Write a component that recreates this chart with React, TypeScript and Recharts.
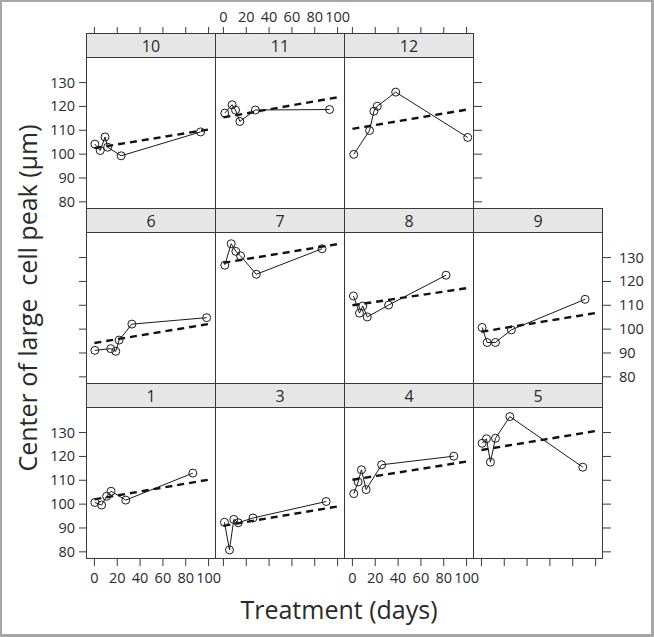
import { Line, LineChart, XAxis, YAxis } from 'recharts';

// panel order: top row, middle row, bottom row (lattice layout, 4 columns)
const panelNames = ['10', '11', '12', '6', '7', '8', '9', '1', '3', '4', '5'];
const panelRows = [0, 0, 0, 1, 1, 1, 1, 2, 2, 2, 2];
const panelCols = [0, 1, 2, 0, 1, 2, 3, 0, 1, 2, 3];

// treatment day and centre of large cell peak (µm) for each subject
const days10 = [0.4, 5.1, 9.3, 11.6, 23.4, 93];
const peak10 = [104.2, 101.5, 107.2, 102.9, 99.3, 109.3];
const days11 = [1.2, 7.6, 10.6, 14.4, 28, 93];
const peak11 = [117.2, 120.7, 118.5, 113.7, 118.5, 118.7];
const days12 = [1.2, 15, 18.8, 21.8, 37.9, 101];
const peak12 = [99.9, 109.9, 118, 120.1, 126, 107];
const days6 = [0.4, 14.3, 18.7, 21.6, 32.8, 98.3];
const peak6 = [91.1, 91.8, 90.7, 95.4, 102.1, 104.8];
const days7 = [1.2, 6.8, 10.9, 15, 28.8, 86.4];
const peak7 = [126.8, 135.8, 132.6, 130.7, 123, 133.7];
const days8 = [0.9, 6.2, 9.1, 13, 31.7, 82];
const peak8 = [113.9, 106.7, 109.7, 105.1, 110.1, 122.6];
const days9 = [0.6, 5, 12.3, 26.2, 90.8];
const peak9 = [100.7, 94.4, 94.4, 99.7, 112.5];
const days1 = [0.4, 6.3, 10.7, 14.6, 27.5, 86.2];
const peak1 = [100.7, 99.6, 103.3, 105.4, 101.7, 113];
const days3 = [0.9, 5.3, 9.1, 13, 25.9, 90];
const peak3 = [92.4, 80.8, 93.6, 92.2, 94.2, 101.1];
const days4 = [1.2, 5, 7.9, 12, 25.6, 88.8];
const peak4 = [104.4, 109.3, 114.4, 106.1, 116.5, 120.1];
const days5 = [0.6, 4.4, 7.9, 12.3, 24.9, 88.8];
const peak5 = [125.5, 127.4, 117.6, 127.6, 136.7, 115.5];

const panelDays = [days10, days11, days12, days6, days7, days8, days9, days1, days3, days4, days5];
const panelPeaks = [peak10, peak11, peak12, peak6, peak7, peak8, peak9, peak1, peak3, peak4, peak5];

// dashed fitted line, read at its two ends
const fitDays = [0, 102];
const fitStart = [102.5, 115.4, 110.6, 94.2, 127.8, 110, 98.9, 102, 90.9, 110.2, 122.7];
const fitEnd = [110.5, 124, 118.8, 102.3, 135.8, 117.3, 106.9, 110.4, 99.2, 118, 130.8];

const dayTicks = [0, 20, 40, 60, 80, 100];
const peakTicks = [80, 90, 100, 110, 120, 130];

const colLeft = [86, 215, 344, 473];
const rowTop = [57, 232, 407];
const PLOT_W = 129;
const PLOT_H = 151;
const STRIP_H = 24;
const M = 60;
const FONT = '"Open Sans", sans-serif';
const INK = '#2a2a2a';
const EDGE = '#3a3a3a';

const makeDayTick = (row: number, col: number) => (props: any) => {
  const { x, y, payload } = props;
  const bottom = row === 2;
  const top = row === 0;
  const stripTop = y - PLOT_H - STRIP_H;
  return (
    <g>
      {bottom && <line x1={x} x2={x} y1={y} y2={y + 7} stroke={EDGE} />}
      {bottom && (col === 0 || col === 2) && (
        <text x={x} y={y + 24} textAnchor="middle" fontSize={14.5} fontFamily={FONT} fill={INK}>
          {payload.value}
        </text>
      )}
      {top && <line x1={x} x2={x} y1={stripTop} y2={stripTop - 7} stroke={EDGE} />}
      {top && col === 1 && (
        <text x={x} y={stripTop - 12} textAnchor="middle" fontSize={14.5} fontFamily={FONT} fill={INK}>
          {payload.value}
        </text>
      )}
    </g>
  );
};

const makePeakTick = (row: number, col: number) => (props: any) => {
  const { x, y, payload } = props;
  const left = col === 0;
  const right = col === 3 || (row === 0 && col === 2);
  const xr = x + PLOT_W;
  return (
    <g>
      {left && <line x1={x - 8} x2={x} y1={y} y2={y} stroke={EDGE} />}
      {left && row !== 1 && (
        <text x={x - 12} y={y + 5} textAnchor="end" fontSize={14.5} fontFamily={FONT} fill={INK}>
          {payload.value}
        </text>
      )}
      {right && <line x1={xr} x2={xr + 8} y1={y} y2={y} stroke={EDGE} />}
      {right && row === 1 && (
        <text x={xr + 16} y={y + 5} textAnchor="start" fontSize={14.5} fontFamily={FONT} fill={INK}>
          {payload.value}
        </text>
      )}
    </g>
  );
};

function Panel({ i }: { i: number }) {
  const row = panelRows[i];
  const col = panelCols[i];
  const left = colLeft[col];
  const top = rowTop[row];
  const points = panelDays[i].map((d, k) => ({ day: d, peak: panelPeaks[i][k] }));
  const fit = fitDays.map((d, k) => ({ day: d, peak: k === 0 ? fitStart[i] : fitEnd[i] }));
  return (
    <>
      <div
        style={{
          position: 'absolute', left, top: top - STRIP_H, width: PLOT_W + 1, height: STRIP_H + 1,
          boxSizing: 'border-box', border: `1px solid ${EDGE}`, background: '#e6e6e6',
          display: 'flex', alignItems: 'center', justifyContent: 'center',
          fontFamily: FONT, fontSize: 16, color: INK, lineHeight: 1,
        }}
      >
        {panelNames[i]}
      </div>
      <div
        style={{
          position: 'absolute', left, top, width: PLOT_W + 1, height: PLOT_H + 1,
          boxSizing: 'border-box', border: `1px solid ${EDGE}`, background: '#fff',
        }}
      />
      <div style={{ position: 'absolute', left: left + 0.5 - M, top: top + 0.5 - M }}>
        <LineChart
          width={PLOT_W + 2 * M}
          height={PLOT_H + 2 * M}
          margin={{ top: M, right: M, bottom: M - 1, left: M - 1 }}
        >
          <XAxis
            type="number"
            dataKey="day"
            domain={[-6.5, 106.5]}
            ticks={dayTicks}
            interval={0}
            allowDataOverflow
            height={1}
            axisLine={false}
            tickLine={false}
            tickSize={0}
            tickMargin={0}
            tick={makeDayTick(row, col)}
          />
          <YAxis
            type="number"
            dataKey="peak"
            domain={[77, 140.3]}
            ticks={peakTicks}
            interval={0}
            allowDataOverflow
            width={1}
            axisLine={false}
            tickLine={false}
            tickSize={0}
            tickMargin={0}
            tick={makePeakTick(row, col)}
          />
          <Line
            data={fit}
            dataKey="peak"
            stroke="#111"
            strokeWidth={2.4}
            strokeDasharray="7 5"
            dot={false}
            activeDot={false}
            isAnimationActive={false}
          />
          <Line
            data={points}
            dataKey="peak"
            stroke="#1a1a1a"
            strokeWidth={1}
            dot={{ r: 4, stroke: '#1a1a1a', strokeWidth: 1, fill: 'none' }}
            activeDot={false}
            isAnimationActive={false}
          />
        </LineChart>
      </div>
    </>
  );
}

export default function App() {
  return (
    <div style={{ position: 'absolute', left: 0, top: 0, width: 654, height: 637, background: '#fff', overflow: 'hidden' }}>
      {panelNames.map((_, i) => (
        <Panel key={i} i={i} />
      ))}
      <div
        style={{
          position: 'absolute', left: 27, top: 298, transform: 'translate(-50%, -50%) rotate(-90deg)',
          whiteSpace: 'pre', fontFamily: FONT, fontSize: 25, color: INK, lineHeight: 1,
        }}
      >
        {'Center of large  cell peak (µm)'}
      </div>
      <div
        style={{
          position: 'absolute', left: 339, top: 594, transform: 'translateX(-50%)',
          whiteSpace: 'pre', fontFamily: FONT, fontSize: 25, color: INK, lineHeight: 1.2,
        }}
      >
        Treatment (days)
      </div>
      <div
        style={{
          position: 'absolute', left: 0, top: 0, width: 654, height: 637, boxSizing: 'border-box',
          borderStyle: 'solid', borderColor: '#a6a6a6', borderWidth: '2px 3px 3px 2px', pointerEvents: 'none',
        }}
      />
    </div>
  );
}
